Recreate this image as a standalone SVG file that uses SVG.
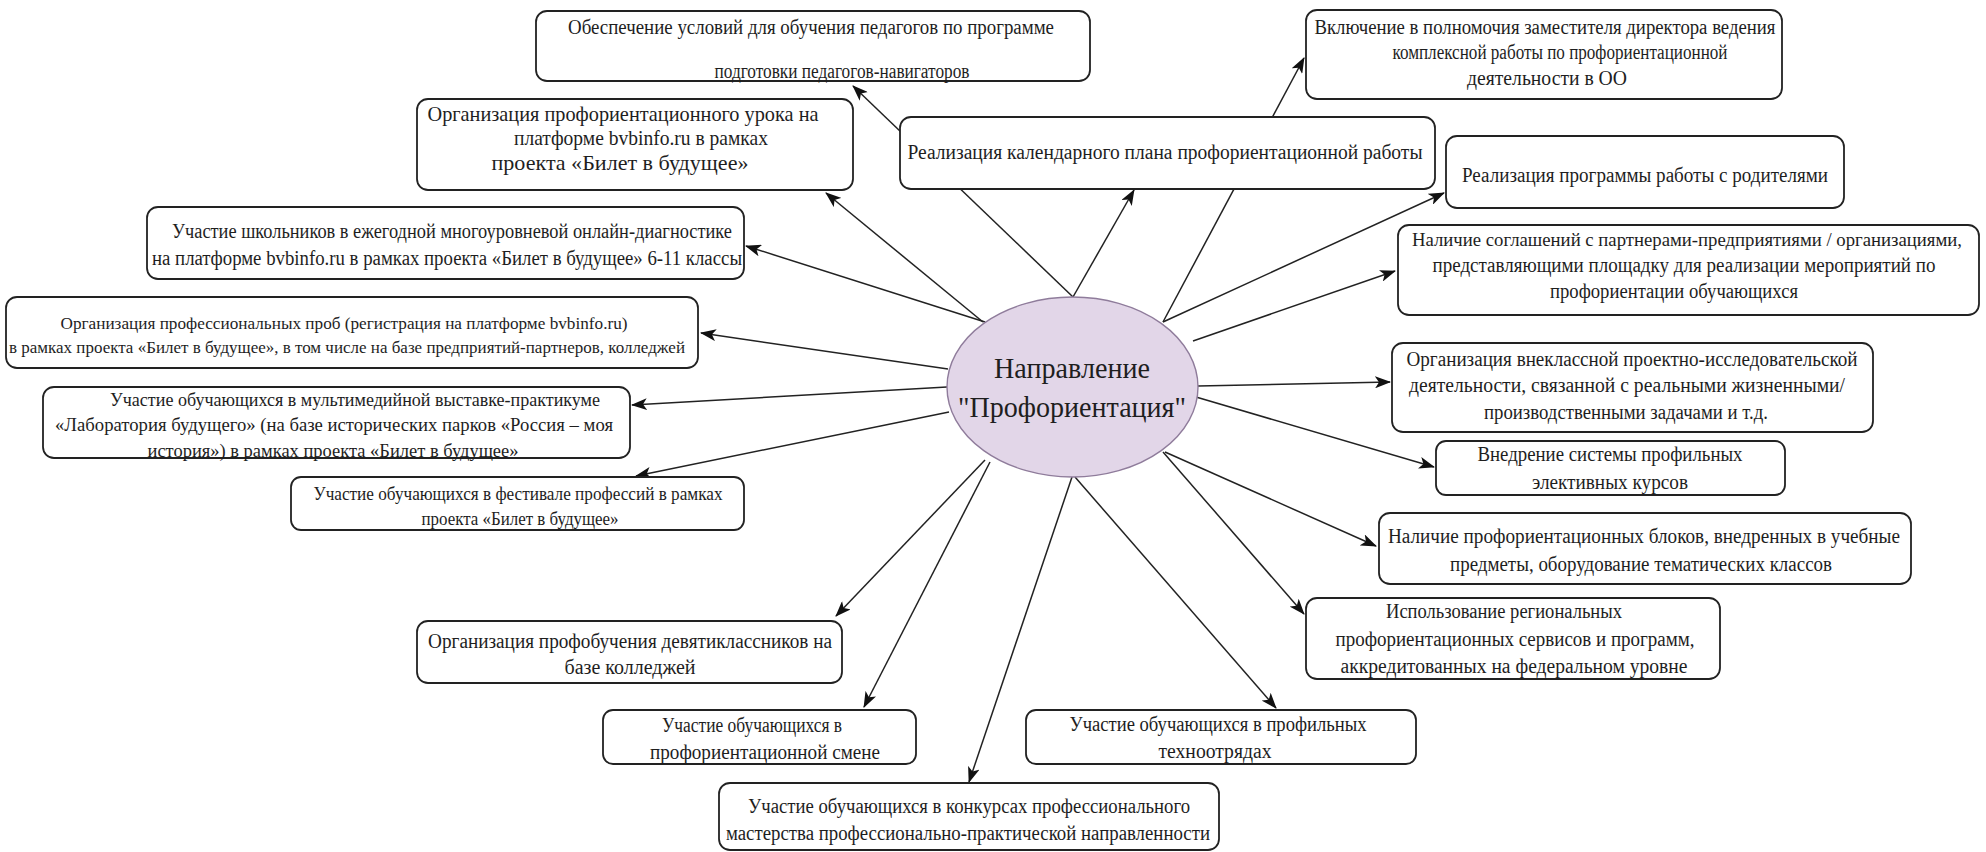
<svg xmlns="http://www.w3.org/2000/svg" width="1986" height="852" viewBox="0 0 1986 852">
<style>
  .bg { fill: #ffffff; }
  .box { fill: #ffffff; stroke: #222222; stroke-width: 1.8; }
  .t { font-family: "Liberation Serif", "Times New Roman", serif; font-size: 20px; fill: #1e1e1e; text-anchor: middle; }
  .s17 { font-size: 17.5px; }
  .s18 { font-size: 18.5px; }
  .s185 { font-size: 19px; }
  .s21 { font-size: 21px; }
  .c { stroke: #222222; stroke-width: 1.5; fill: none; marker-end: url(#arr); }
  .center { fill: #e2d6e8; stroke: #8f7c9b; stroke-width: 1.4; }
  .ct { font-family: "Liberation Serif", "Times New Roman", serif; font-size: 29px; fill: #1e1e1e; text-anchor: middle; }
</style>
<defs>
  <marker id="arr" markerUnits="userSpaceOnUse" markerWidth="16" markerHeight="12" viewBox="0 0 16 12" refX="15" refY="6" orient="auto">
    <path d="M0,0 L16,6 L0,12 L4,6 z" fill="#111111"/>
  </marker>
</defs>
<rect class="bg" x="0" y="0" width="1986" height="852"/>

<g id="connectors">
  <line class="c" x1="1073" y1="297" x2="853" y2="86"/>
  <line class="c" x1="983" y1="322" x2="826" y2="193"/>
  <line class="c" x1="985" y1="322" x2="746" y2="246"/>
  <line class="c" x1="948" y1="369" x2="701" y2="333"/>
  <line class="c" x1="947" y1="387" x2="632" y2="405"/>
  <line class="c" x1="949" y1="412" x2="636" y2="476"/>
  <line class="c" x1="985" y1="460" x2="836" y2="616"/>
  <line class="c" x1="990" y1="462" x2="864" y2="707"/>
  <line class="c" x1="1072" y1="477" x2="969" y2="782"/>
  <line class="c" x1="1075" y1="477" x2="1276" y2="708"/>
  <line class="c" x1="1163" y1="452" x2="1304" y2="614"/>
  <line class="c" x1="1165" y1="452" x2="1376" y2="546"/>
  <line class="c" x1="1196" y1="397" x2="1434" y2="467"/>
  <line class="c" x1="1198" y1="386" x2="1390" y2="382"/>
  <line class="c" x1="1193" y1="341" x2="1395" y2="271"/>
  <line class="c" x1="1163" y1="322" x2="1444" y2="193"/>
  <line class="c" x1="1163" y1="322" x2="1304" y2="58"/>
  <line class="c" x1="1073" y1="297" x2="1134" y2="190"/>
</g>

<g id="node-teachers">
  <rect class="box" x="536" y="11" width="554" height="70" rx="11"/>
  <text class="t" x="811" y="34" textLength="486" lengthAdjust="spacingAndGlyphs">Обеспечение условий для обучения педагогов по программе</text>
  <text class="t" x="842" y="78" textLength="255" lengthAdjust="spacingAndGlyphs">подготовки педагогов-навигаторов</text>
</g>

<g id="node-lesson">
  <rect class="box" x="417" y="99" width="436" height="91" rx="11"/>
  <text class="t s21" x="623" y="121" textLength="391" lengthAdjust="spacingAndGlyphs">Организация профориентационного урока на</text>
  <text class="t s21" x="641" y="145" textLength="254" lengthAdjust="spacingAndGlyphs">платформе bvbinfo.ru в рамках</text>
  <text class="t s21" x="620" y="170" textLength="257" lengthAdjust="spacingAndGlyphs">проекта «Билет в будущее»</text>
</g>

<g id="node-calendar">
  <rect class="box" x="900" y="117" width="535" height="72" rx="11"/>
  <text class="t" x="1165" y="159" textLength="515" lengthAdjust="spacingAndGlyphs">Реализация календарного плана профориентационной работы</text>
</g>

<g id="node-deputy">
  <rect class="box" x="1306" y="10" width="476" height="89" rx="11"/>
  <text class="t" x="1545" y="34" textLength="461" lengthAdjust="spacingAndGlyphs">Включение в полномочия заместителя директора ведения</text>
  <text class="t" x="1560" y="59" textLength="335" lengthAdjust="spacingAndGlyphs">комплексной работы по профориентационной</text>
  <text class="t" x="1547" y="85" textLength="160" lengthAdjust="spacingAndGlyphs">деятельности в ОО</text>
</g>

<g id="node-parents">
  <rect class="box" x="1446" y="136" width="398" height="72" rx="11"/>
  <text class="t" x="1645" y="182" textLength="366" lengthAdjust="spacingAndGlyphs">Реализация программы работы с родителями</text>
</g>

<g id="node-diagnostics">
  <rect class="box" x="147" y="207" width="597" height="72" rx="11"/>
  <text class="t" x="452" y="238" textLength="560" lengthAdjust="spacingAndGlyphs">Участие школьников в ежегодной многоуровневой онлайн-диагностике</text>
  <text class="t" x="447" y="265" textLength="590" lengthAdjust="spacingAndGlyphs">на платформе bvbinfo.ru в рамках проекта «Билет в будущее» 6-11 классы</text>
</g>

<g id="node-trials">
  <rect class="box" x="6" y="297" width="692" height="71" rx="11"/>
  <text class="t s17" x="344" y="329" textLength="567" lengthAdjust="spacingAndGlyphs">Организация профессиональных проб (регистрация на платформе bvbinfo.ru)</text>
  <text class="t s17" x="347" y="353" textLength="676" lengthAdjust="spacingAndGlyphs">в рамках проекта «Билет в будущее», в том числе на базе предприятий-партнеров, колледжей</text>
</g>

<g id="node-exhibition">
  <rect class="box" x="43" y="387" width="587" height="71" rx="11"/>
  <text class="t s185" x="355" y="406" textLength="490" lengthAdjust="spacingAndGlyphs">Участие обучающихся в мультимедийной выставке-практикуме</text>
  <text class="t s185" x="334" y="431" textLength="558" lengthAdjust="spacingAndGlyphs">«Лаборатория будущего» (на базе исторических парков «Россия – моя</text>
  <text class="t s185" x="333" y="457" textLength="371" lengthAdjust="spacingAndGlyphs">история») в рамках проекта «Билет в будущее»</text>
</g>

<g id="node-festival">
  <rect class="box" x="291" y="477" width="453" height="53" rx="10"/>
  <text class="t s18" x="518" y="500" textLength="409" lengthAdjust="spacingAndGlyphs">Участие обучающихся в фестивале профессий в рамках</text>
  <text class="t s18" x="520" y="525" textLength="197" lengthAdjust="spacingAndGlyphs">проекта «Билет в будущее»</text>
</g>

<g id="node-ninth">
  <rect class="box" x="417" y="621" width="425" height="62" rx="11"/>
  <text class="t" x="630" y="648" textLength="404" lengthAdjust="spacingAndGlyphs">Организация профобучения девятиклассников на</text>
  <text class="t" x="630" y="674" textLength="131" lengthAdjust="spacingAndGlyphs">базе колледжей</text>
</g>

<g id="node-shift">
  <rect class="box" x="603" y="710" width="313" height="54" rx="10"/>
  <text class="t" x="752" y="732" textLength="180" lengthAdjust="spacingAndGlyphs">Участие обучающихся в</text>
  <text class="t" x="765" y="759" textLength="230" lengthAdjust="spacingAndGlyphs">профориентационной смене</text>
</g>

<g id="node-contests">
  <rect class="box" x="719" y="783" width="500" height="67" rx="11"/>
  <text class="t" x="969" y="813" textLength="442" lengthAdjust="spacingAndGlyphs">Участие обучающихся в конкурсах профессионального</text>
  <text class="t" x="968" y="840" textLength="484" lengthAdjust="spacingAndGlyphs">мастерства профессионально-практической направленности</text>
</g>

<g id="node-techno">
  <rect class="box" x="1026" y="710" width="390" height="54" rx="10"/>
  <text class="t" x="1218" y="731" textLength="297" lengthAdjust="spacingAndGlyphs">Участие обучающихся в профильных</text>
  <text class="t" x="1215" y="758" textLength="113" lengthAdjust="spacingAndGlyphs">техноотрядах</text>
</g>

<g id="node-regional">
  <rect class="box" x="1306" y="598" width="414" height="81" rx="11"/>
  <text class="t" x="1504" y="618" textLength="236" lengthAdjust="spacingAndGlyphs">Использование региональных</text>
  <text class="t" x="1515" y="646" textLength="359" lengthAdjust="spacingAndGlyphs">профориентационных сервисов и программ,</text>
  <text class="t" x="1514" y="673" textLength="347" lengthAdjust="spacingAndGlyphs">аккредитованных на федеральном уровне</text>
</g>

<g id="node-blocks">
  <rect class="box" x="1379" y="513" width="532" height="71" rx="11"/>
  <text class="t" x="1644" y="543" textLength="512" lengthAdjust="spacingAndGlyphs">Наличие профориентационных блоков, внедренных в учебные</text>
  <text class="t" x="1641" y="571" textLength="382" lengthAdjust="spacingAndGlyphs">предметы, оборудование тематических классов</text>
</g>

<g id="node-electives">
  <rect class="box" x="1436" y="441" width="349" height="54" rx="10"/>
  <text class="t" x="1610" y="461" textLength="265" lengthAdjust="spacingAndGlyphs">Внедрение системы профильных</text>
  <text class="t" x="1610" y="489" textLength="156" lengthAdjust="spacingAndGlyphs">элективных курсов</text>
</g>

<g id="node-research">
  <rect class="box" x="1392" y="343" width="481" height="89" rx="11"/>
  <text class="t" x="1632" y="366" textLength="451" lengthAdjust="spacingAndGlyphs">Организация внеклассной проектно-исследовательской</text>
  <text class="t" x="1627" y="392" textLength="436" lengthAdjust="spacingAndGlyphs">деятельности, связанной с реальными жизненными/</text>
  <text class="t" x="1626" y="419" textLength="284" lengthAdjust="spacingAndGlyphs">производственными задачами и т.д.</text>
</g>

<g id="node-partners">
  <rect class="box" x="1398" y="225" width="581" height="90" rx="11"/>
  <text class="t" x="1687" y="246" style="font-size:19px" textLength="550" lengthAdjust="spacingAndGlyphs">Наличие соглашений с партнерами-предприятиями / организациями,</text>
  <text class="t" x="1684" y="272" textLength="503" lengthAdjust="spacingAndGlyphs">представляющими площадку для реализации мероприятий по</text>
  <text class="t" x="1674" y="298" textLength="248" lengthAdjust="spacingAndGlyphs">профориентации обучающихся</text>
</g>

<g id="node-center">
  <ellipse class="center" cx="1072.5" cy="387" rx="125.5" ry="90"/>
  <text class="ct" x="1072" y="378" textLength="156" lengthAdjust="spacingAndGlyphs">Направление</text>
  <text class="ct" x="1072" y="417" textLength="228" lengthAdjust="spacingAndGlyphs">"Профориентация"</text>
</g>
</svg>
